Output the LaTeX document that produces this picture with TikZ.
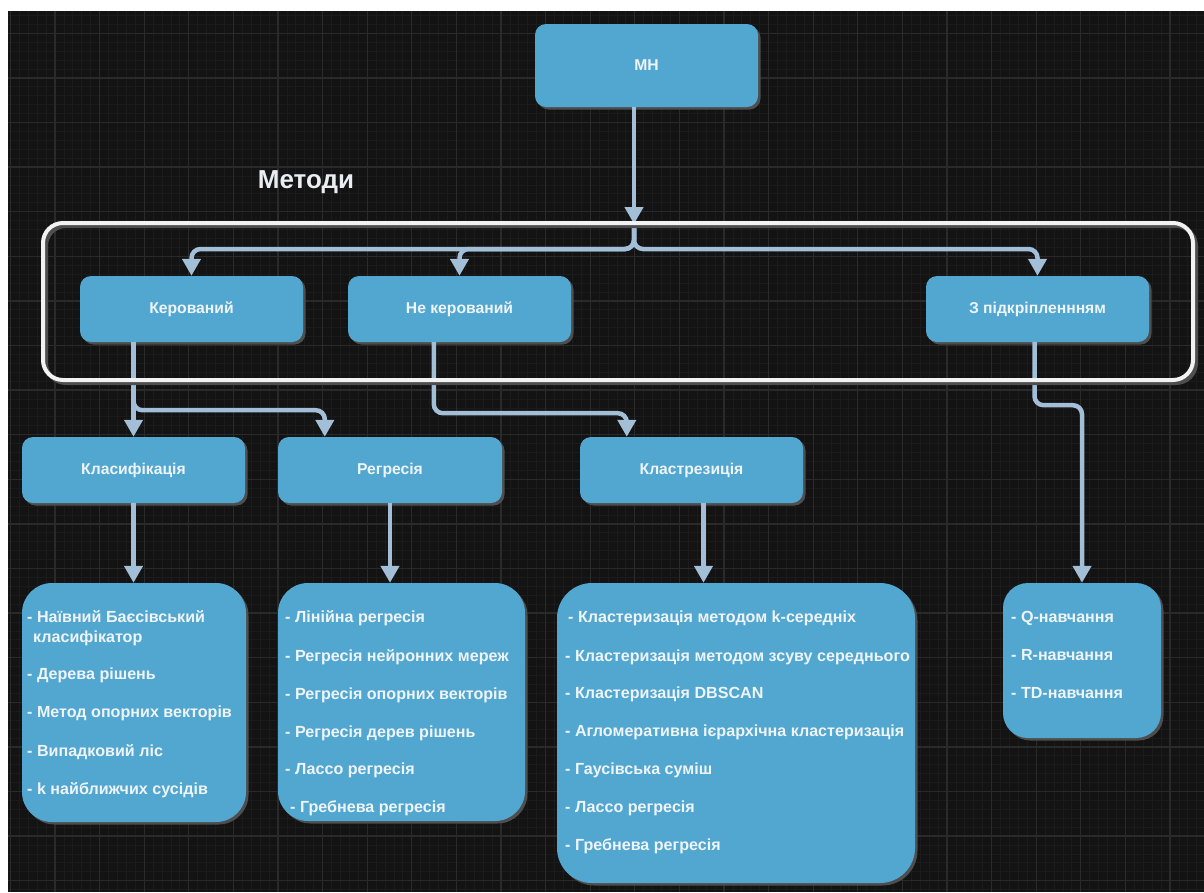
\documentclass[tikz,border=0pt]{standalone}
\usepackage{fontspec}
\setmainfont{Liberation Sans}
\usetikzlibrary{arrows.meta,shadows,calc}

\definecolor{canvas}{HTML}{131313}
\definecolor{gridminor}{HTML}{1B1B1B}
\definecolor{gridmajor}{HTML}{2A2A2A}
\definecolor{boxblue}{HTML}{52A7D0}
\definecolor{boxshade}{HTML}{4E4E4E}
\definecolor{wire}{HTML}{A3BFD8}
\definecolor{ink}{HTML}{EEF4F8}
\definecolor{frameline}{HTML}{F2F2F2}

\begin{document}
\begin{tikzpicture}[x=1pt,y=-1pt,
  box/.style={fill=boxblue, draw=none, rounded corners=11pt, inner sep=0pt,
    text=ink, font=\bfseries\fontsize{15.7}{18}\selectfont,
    drop shadow={shadow xshift=2.5pt, shadow yshift=-2.5pt, fill=boxshade, opacity=1}},
  listbox/.style={box, rounded corners=30pt},
  item/.style={anchor=west, inner sep=0pt, text=ink,
    font=\bfseries\fontsize{16.1}{19}\selectfont, text height=11.5pt, text depth=3pt},
  conn/.style={draw=wire, line width=4.5pt, rounded corners=9pt,
    -{Triangle[width=18pt,length=17pt]}}
]
\useasboundingbox (0,0) rectangle (1204,892);
\fill[white] (0,0) rectangle (1204,892);

% dark canvas with grid
\begin{scope}
  \clip (8,11) rectangle (1204,892);
  \fill[canvas] (8,11) rectangle (1204,892);
  \foreach \i in {0,...,134}
    \draw[gridminor, line width=0.8pt] ({10.4+8.92*\i},11) -- ++(0,881);
  \foreach \j in {0,...,99}
    \draw[gridminor, line width=0.8pt] (8,{15.46+8.92*\j}) -- ++(1196,0);
  \foreach \i in {0,...,26}
    \draw[gridmajor, line width=1.3pt] ({10.4+44.6*\i},11) -- ++(0,881);
  \foreach \j in {0,...,19}
    \draw[gridmajor, line width=1.3pt] (8,{33.3+44.6*\j}) -- ++(1196,0);
\end{scope}

% top node
\node[box, minimum width=223pt, minimum height=83pt] (mn) at (646.5,65.5) {МН};

% group title
\node[text=ink!95!gray, font=\bfseries\fontsize{26}{30}\selectfont, inner sep=0pt]
  (title) at (306,182) {Методи};

% learning types
\node[box, minimum width=223pt, minimum height=66pt] (ker)   at (191.5,309) {Керований};
\node[box, minimum width=223pt, minimum height=66pt] (unsup) at (459.5,309) {Не керований};
\node[box, minimum width=223pt, minimum height=66pt] (rein)  at (1037.5,309) {З підкріпленнням};

% tasks
\node[box, minimum width=223pt, minimum height=66pt] (cls) at (133.5,470) {Класифікація};
\node[box, minimum width=224pt, minimum height=66pt] (reg) at (390,470) {Регресія};
\node[box, minimum width=223pt, minimum height=66pt] (clu) at (691.5,470) {Кластрезиція};

% method lists
\node[listbox, minimum width=224pt, minimum height=239pt] (la) at (134,702.5) {};
\node[listbox, minimum width=247pt, minimum height=238pt] (lb) at (401.5,702) {};
\node[listbox, rounded corners=35pt, minimum width=358pt, minimum height=300pt] (lc) at (736,733) {};
\node[listbox, rounded corners=25pt, minimum width=158pt, minimum height=155pt] (ld) at (1082,660.5) {};

\foreach \x/\y/\t [count=\k] in {
  27/618/{- Наївний Баєсівський},
  33/638/{класифікатор},
  27/675/{- Дерева рішень},
  27/713/{- Метод опорних векторів},
  27/752/{- Випадковий ліс},
  27/790/{- k найближчих сусідів}}
  \node[item] (a\k) at (\x,\y) {\t};

\foreach \x/\y/\t [count=\k] in {
  285/618/{- Лінійна регресія},
  285/657/{- Регресія нейронних мереж},
  285/695/{- Регресія опорних векторів},
  285/733/{- Регресія дерев рішень},
  285/770/{- Лассо регресія},
  290/808/{- Гребнева регресія}}
  \node[item] (b\k) at (\x,\y) {\t};

\foreach \x/\y/\t [count=\k] in {
  568/618/{- Кластеризація методом k-середніх},
  565/657/{- Кластеризація методом зсуву середнього},
  565/694/{- Кластеризація DBSCAN},
  565/732/{- Агломеративна ієрархічна кластеризація},
  565/770/{- Гаусівська суміш},
  565/808/{- Лассо регресія},
  565/846/{- Гребнева регресія}}
  \node[item] (c\k) at (\x,\y) {\t};

\foreach \x/\y/\t [count=\k] in {
  1011/618/{- Q-навчання},
  1011/656/{- R-навчання},
  1011/694/{- TD-навчання}}
  \node[item] (d\k) at (\x,\y) {\t};

% connectors
\coordinate (split) at (634,224);
\draw[conn] (mn.south -| split) -- (split);
\draw[conn] (split) -- ++(0,25) -| (ker.north);
\draw[conn] (split) -- ++(0,25) -| (unsup.north);
\draw[conn] (split) -- ++(0,25) -| (rein.north);

\draw[conn] (ker.south -| cls.north) -- (cls.north);
\draw[conn] (ker.south -| cls.north) -- ++(0,68) -| ([xshift=47pt]reg.north west);
\draw[conn] ([xshift=86pt]unsup.south west) -- ++(0,71) -| ([xshift=47pt]clu.north west);

\draw[conn] (cls.south) -- (cls.south |- la.north);
\draw[conn] (reg.south) -- (reg.south |- lb.north);
\draw[conn] ([xshift=12pt]clu.south) -- ([xshift=12pt]clu.south |- lc.north);
\draw[conn] ([xshift=-3pt]rein.south) -- ++(0,63) -| (ld.north);

% frame around the learning types
\draw[boxshade, line width=4pt, rounded corners=20pt] (46,226) rectangle (1196,383);
\draw[frameline, line width=4pt, rounded corners=20pt] (43,223) rectangle (1193,380);
\end{tikzpicture}
\end{document}
